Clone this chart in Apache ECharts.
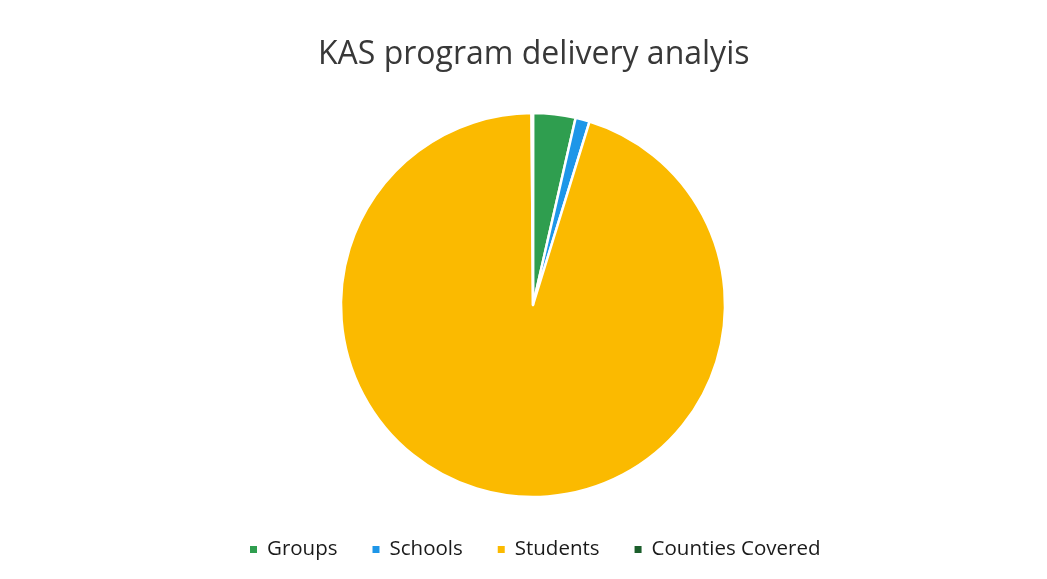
<!DOCTYPE html>
<html><head><meta charset="utf-8">
<script src="https://cdn.jsdelivr.net/npm/echarts@6/dist/echarts.min.js"></script>
<style>html,body{margin:0;padding:0;background:#fff}#c{width:1047px;height:579px}</style>
</head><body><div id="c"></div>
<script>
const categories = ['Groups', 'Schools', 'Students', 'Counties Covered'];
const values = [150, 50, 4000, 5];
const colors = ['#2f9e4f', '#1e96e8', '#fbba00', '#1b5e2b'];
const chart = echarts.init(document.getElementById('c'));
chart.setOption({
  animation: false,
  title: { text: 'KAS program delivery analyis', left: 313, top: 34,
    textStyle: { fontFamily: 'Open Sans', fontSize: 32, fontWeight: 'normal', color: '#383838' } },
  legend: { bottom: 14, left: 243, itemWidth: 9, itemHeight: 9, itemGap: 33, icon: 'rect',
    textStyle: { fontFamily: 'Open Sans', fontSize: 20.5, color: '#1a1a1a', padding: [0, 0, 0, 4] },
    data: categories },
  series: [{
    type: 'pie', center: [533, 305], radius: 192, startAngle: 90, clockwise: true,
    label: { show: false }, labelLine: { show: false },
    itemStyle: { borderColor: '#fff', borderWidth: 2.5 },
    data: categories.map((n, i) => ({ name: n, value: values[i], itemStyle: { color: colors[i] } }))
  }]
});
</script></body></html>
